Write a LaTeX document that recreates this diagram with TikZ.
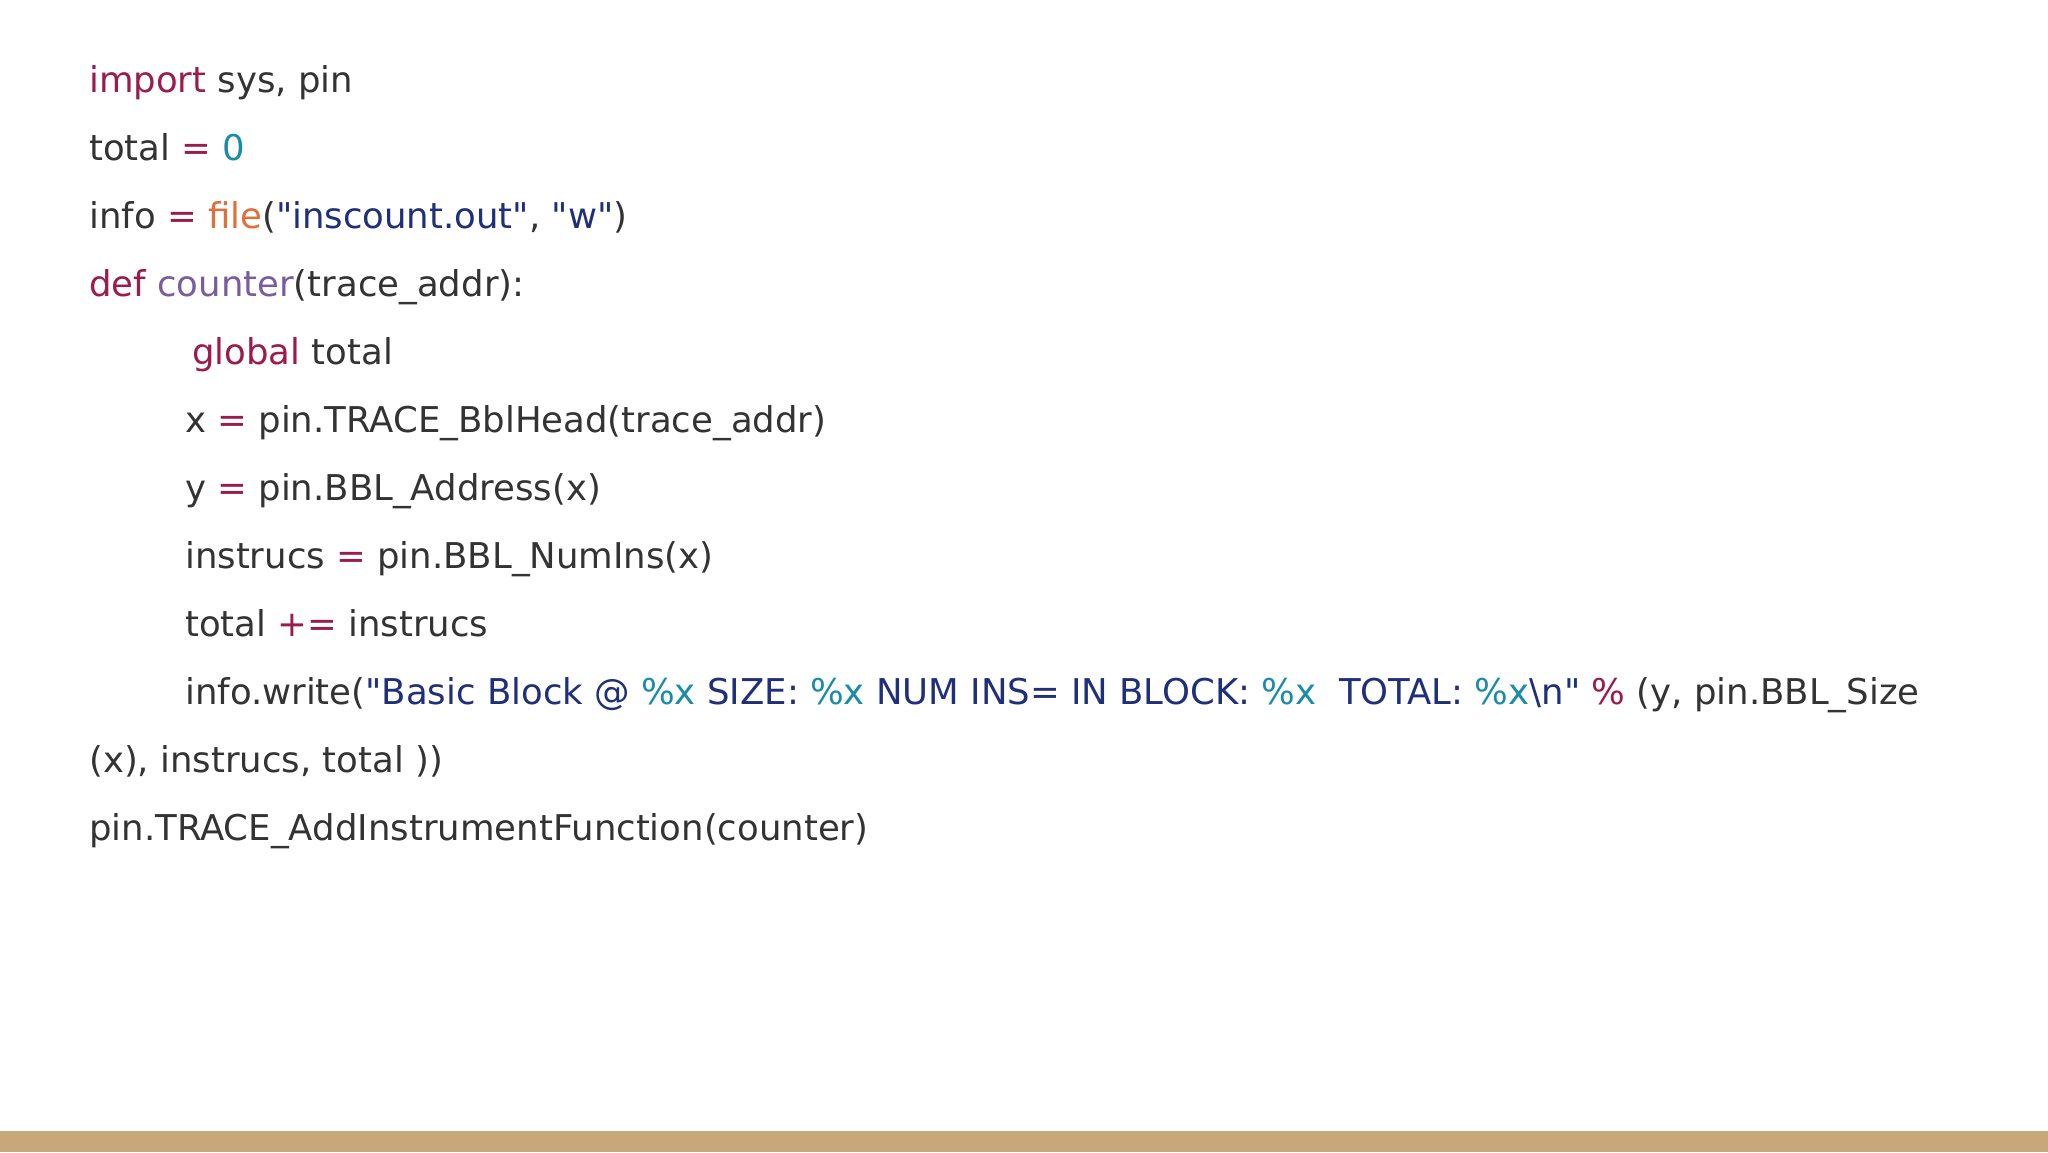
\documentclass[tikz,border=0pt]{standalone}
\usepackage{fontspec}
\setmainfont{DejaVu Sans}
\newfontfamily\plainfont{DejaVu Sans}
\definecolor{kw}{HTML}{9B1B4F}
\definecolor{num}{HTML}{1A8CA8}
\definecolor{str}{HTML}{1F2F7A}
\definecolor{fn}{HTML}{E0703A}
\definecolor{fdef}{HTML}{7A5C9E}
\definecolor{txt}{HTML}{333333}
\definecolor{bar}{HTML}{C8A77A}
\newcommand{\K}[1]{\textcolor{kw}{#1}}
\newcommand{\N}[1]{\textcolor{num}{#1}}
\newcommand{\St}[1]{\textcolor{str}{#1}}
\newcommand{\Q}{{\plainfont"}}
\begin{document}
\begin{tikzpicture}[x=1pt,y=-1pt,
  code/.style={anchor=base west,inner sep=0pt,text=txt,font=\fontsize{35.5}{42}\selectfont}]
\useasboundingbox (0,0) rectangle (2048,1152);
\fill[white] (0,0) rectangle (2048,1152);
\fill[bar] (0,1131) rectangle (2048,1152);
\node[code] (l1) at (89,92) {\K{import} sys, pin};
\node[code] (l2) at (89,160) {total \K{=} \N{0}};
\node[code] (l3) at (89,228) {info \K{=} \textcolor{fn}{file}(\St{\Q inscount.out\Q}, \St{\Q w\Q})};
\node[code] (l4) at (89,296) {\K{def} \textcolor{fdef}{counter}(trace\_addr):};
\node[code] (l5) at (192,364) {\K{global} total};
\node[code] (l6) at (185,432) {x \K{=} pin.TRACE\_BblHead(trace\_addr)};
\node[code] (l7) at (185,500) {y \K{=} pin.BBL\_Address(x)};
\node[code] (l8) at (185,568) {instrucs \K{=} pin.BBL\_NumIns(x)};
\node[code] (l9) at (185,636) {total \K{+=} instrucs};
\node[code] (l10) at (185,704) {info.write(\St{\Q Basic Block @}\ \N{\%x}\ \St{SIZE:}\ \N{\%x}\ \St{NUM INS= IN BLOCK:}\ \N{\%x}\ \ \St{TOTAL:}\ \N{\%x}\St{\textbackslash n\Q}\ \K{\%} (y, pin.BBL\_Size};
\node[code] (l11) at (89,772) {(x), instrucs, total ))};
\node[code] (l12) at (89,840) {pin.TRACE\_AddInstrumentFunction(counter)};
\end{tikzpicture}
\end{document}
